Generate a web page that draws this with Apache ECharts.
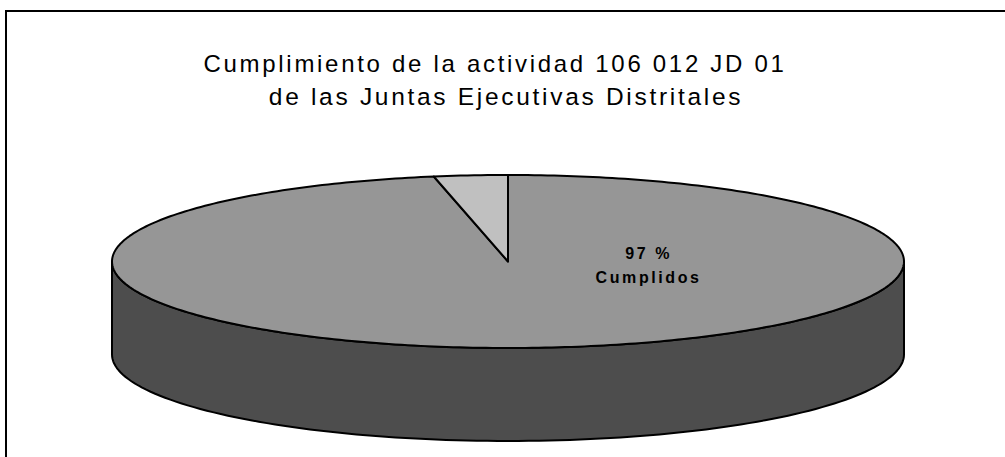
<!DOCTYPE html>
<html><head><meta charset="utf-8">
<style>
html,body{margin:0;padding:0;background:#fff;overflow:hidden}
#c{width:1005px;height:457px}
#c text[style*="24px"]{letter-spacing:2.7px}
#c text[style*="24.5px"]{letter-spacing:2.7px}
#c text[style*="16px"]{letter-spacing:2.6px}
</style>
<script src="https://cdn.jsdelivr.net/npm/echarts@6/dist/echarts.min.js"></script>
</head><body><div id="c"></div>
<script>
var titleLines = ['Cumplimiento de la actividad 106 012 JD 01', 'de las Juntas Ejecutivas Distritales'];
var categories = ['Cumplidos', 'Incumplidos'];
var values = [97, 3];
var sliceColors = ['#969696', '#c0c0c0'];
var sideColor = '#4d4d4d';
var total = values.reduce(function (a, b) { return a + b; }, 0);

function pt(api, angle, drop) {
  return api.coord([Math.sin(angle), Math.cos(angle) - (drop || 0)]);
}
function renderSlice(params, api) {
  var i = params.dataIndex, start = 0;
  for (var k = 0; k < i; k++) start += values[k];
  var a0 = start / total * 2 * Math.PI;
  var a1 = (start + api.value(0)) / total * 2 * Math.PI;
  var children = [];
  var lw = 2, DEPTH = 1.075, j, t;
  if (i === 0) {
    var side = [], n = 120;
    for (j = 0; j <= n; j++) { t = Math.PI / 2 + Math.PI * j / n; side.push(pt(api, t, 0)); }
    for (j = n; j >= 0; j--) { t = Math.PI / 2 + Math.PI * j / n; side.push(pt(api, t, DEPTH)); }
    children.push({ type: 'polygon', shape: { points: side },
      style: { fill: sideColor, stroke: '#000', lineWidth: lw, lineJoin: 'round' } });
  }
  var top = [api.coord([0, 0])], steps = Math.max(6, Math.round((a1 - a0) * 60));
  for (j = 0; j <= steps; j++) top.push(pt(api, a0 + (a1 - a0) * j / steps, 0));
  children.push({ type: 'polygon', shape: { points: top },
    style: { fill: sliceColors[i], stroke: '#000', lineWidth: lw, lineJoin: 'round' } });
  if (i === 0) {
    var c = api.coord([0.355, -0.05]);
    children.push({ type: 'text', style: {
      text: api.value(0) + ' %\n' + categories[i],
      x: c[0], y: c[1], fill: '#000', font: 'bold 16px "Liberation Sans", Arial, sans-serif',
      align: 'center', verticalAlign: 'middle', lineHeight: 24 } });
  }
  return { type: 'group', children: children };
}

var chart = echarts.init(document.getElementById('c'), null, { renderer: 'svg' });
chart.setOption({
  animation: false,
  backgroundColor: '#fff',
  title: [
    { text: titleLines[0], left: 490, top: 46, textAlign: 'center',
      textStyle: { fontFamily: '"Liberation Sans", Arial, sans-serif', fontWeight: 'normal', fontSize: 24, color: '#000' } },
    { text: titleLines[1], left: 501, top: 79, textAlign: 'center',
      textStyle: { fontFamily: '"Liberation Sans", Arial, sans-serif', fontWeight: 'normal', fontSize: 24.5, color: '#000' } }
  ],
  grid: { left: 112, width: 792, top: 175, height: 173 },
  xAxis: { type: 'value', min: -1, max: 1, show: false },
  yAxis: { type: 'value', min: -1, max: 1, show: false },
  graphic: [
    { type: 'polyline', shape: { points: [[6, 457], [6, 11], [1005, 11]] }, style: { stroke: '#000', lineWidth: 2, fill: null } }
  ],
  series: [{
    type: 'custom', coordinateSystem: 'cartesian2d', clip: false,
    renderItem: renderSlice,
    encode: { value: 0 },
    data: categories.map(function (n, i) { return { name: n, value: [values[i]] }; })
  }]
});
</script></body></html>
